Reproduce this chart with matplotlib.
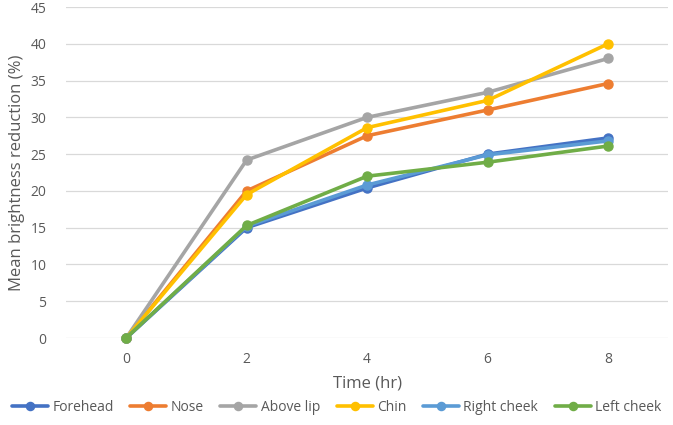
import matplotlib.pyplot as plt

hours = [0, 2, 4, 6, 8]
forehead = [0, 15.0, 20.4, 25.0, 27.2]
nose = [0, 20.0, 27.5, 31.0, 34.6]
above_lip = [0, 24.2, 30.0, 33.4, 38.0]
chin = [0, 19.5, 28.6, 32.3, 40.0]
right_cheek = [0, 15.2, 20.8, 24.9, 26.8]
left_cheek = [0, 15.3, 22.0, 23.9, 26.1]

series = [
    ("Forehead", forehead, "#4472C4"),
    ("Nose", nose, "#ED7D31"),
    ("Above lip", above_lip, "#A5A5A5"),
    ("Chin", chin, "#FFC000"),
    ("Right cheek", right_cheek, "#5B9BD5"),
    ("Left cheek", left_cheek, "#70AD47"),
]

plt.rcParams["font.family"] = ["Open Sans", "DejaVu Sans"]
TXT = "#595959"

fig = plt.figure(figsize=(6.73, 4.25), dpi=100)
ax = fig.add_axes([0.098, 0.2047, 0.895, 0.7788])

for name, vals, col in series:
    ax.plot(hours, vals, color=col, lw=2.6, marker="o", ms=6.5,
            label=name, solid_capstyle="round")

ax.set_xlim(-1, 9)
ax.set_ylim(0, 45)
ax.set_xticks(hours)
ax.set_yticks(range(0, 46, 5))
ax.grid(axis="y", color="#D9D9D9", lw=0.9)
ax.set_axisbelow(True)
for s in ax.spines.values():
    s.set_visible(False)
ax.tick_params(length=0, colors=TXT, labelsize=10)
ax.tick_params(axis="x", pad=10)
ax.tick_params(axis="y", pad=14)
for c in ax.get_lines():
    c.set_clip_on(False)

ax.set_ylabel("Mean brightness reduction (%)", fontsize=12, color=TXT, labelpad=4)
ax.set_xlabel("Time (hr)", fontsize=12, color=TXT, labelpad=6)

fig.legend(loc="center", bbox_to_anchor=(0.5, 0.042), ncol=6, frameon=False,
           fontsize=10, labelcolor=TXT, handlelength=2.6, handletextpad=0.3,
           columnspacing=1.2, markerscale=0.9)

fig.savefig("out.png", dpi=100, facecolor="white")
